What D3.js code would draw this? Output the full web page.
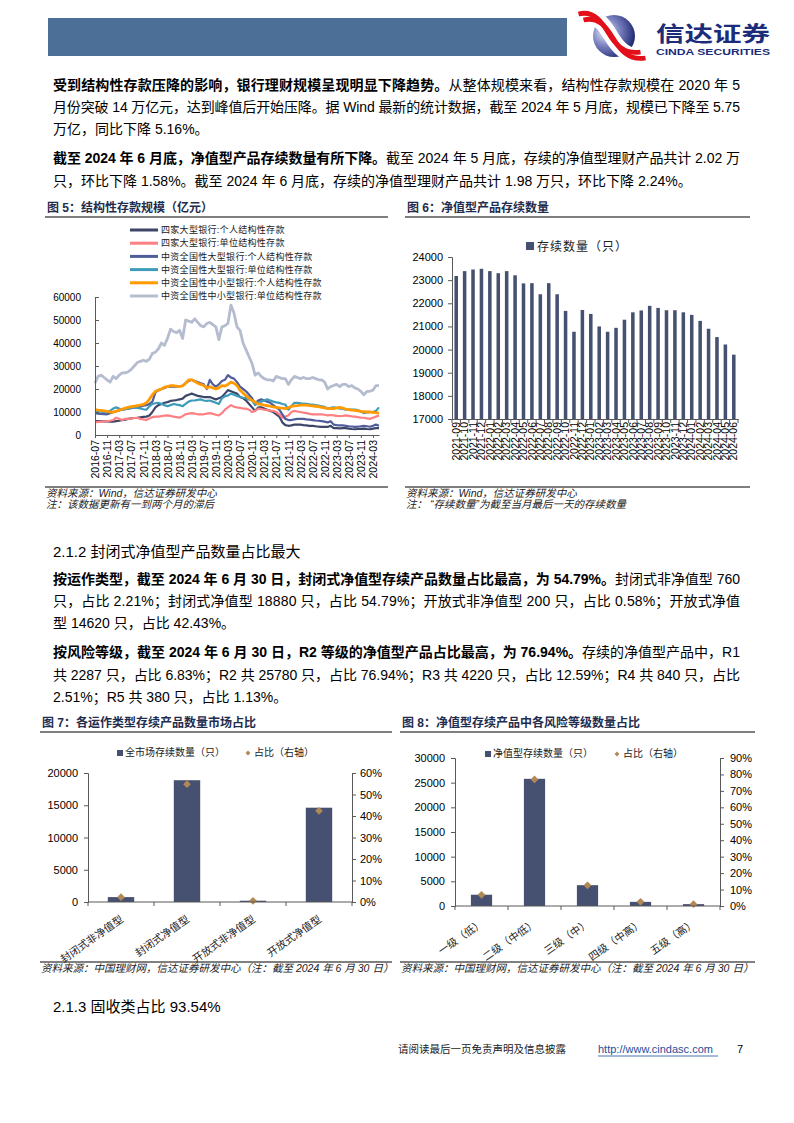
<!DOCTYPE html>
<html>
<head>
<meta charset="utf-8">
<script src="https://cdn.jsdelivr.net/npm/d3@7"></script>
<style>
  body { margin: 0; background: #fff; }
  svg text { font-family: "Liberation Sans", "Noto Sans CJK SC", sans-serif; }
</style>
</head>
<body>
<svg id="page" width="794" height="1123"></svg>
<script>
// ---- Figure 5: structured deposits (亿元), monthly 2016-07 .. 2024-05
const fig5Start = new Date(2016, 6, 1);
const fig5End = new Date(2024, 5, 1);
const fig5TickLabels = ['2016-07', '2016-11', '2017-03', '2017-07', '2017-11', '2018-03', '2018-07', '2018-11',
    '2019-03', '2019-07', '2019-11', '2020-03', '2020-07', '2020-11', '2021-03', '2021-07', '2021-11',
    '2022-03', '2022-07', '2022-11', '2023-03', '2023-07', '2023-11', '2024-03'];
const fig5YTicks = [0, 10000, 20000, 30000, 40000, 50000, 60000];

const big4Personal = [
    6000, 6000, 6000, 5900, 5900, 5800, 5800, 6000, 6200, 6500,
    6700, 7000, 7200, 7400, 7500, 7700, 7900, 8000, 8500, 10000,
    12000, 13000, 13500, 14000, 14300, 14800, 15000, 15200, 15500, 15800,
    17000, 17500, 18000, 17500, 17000, 16800, 16500, 16500, 16500, 16000,
    15500, 16000, 16500, 18000, 19500, 19000, 18500, 18000, 16500, 16000,
    15000, 13500, 12000, 10500, 12000, 12000, 11500, 11000, 10500, 10000,
    9000, 8000, 5500, 4300, 4000, 4200, 4500, 4500, 4500, 4300,
    4200, 4000, 4000, 3800, 3600, 3500, 3500, 3500, 4000, 3000,
    3000, 2900, 3000, 3000, 2800, 2600, 2500, 2600, 2700, 2800,
    2600, 2500, 2800, 3000, 3000];
const big4Unit = [
    5500, 5700, 5800, 5900, 6000, 6200, 6500, 7500, 7000, 6500,
    7000, 7000, 7200, 7400, 7500, 7000, 6800, 6500, 7200, 7800,
    8000, 8000, 8200, 8400, 8500, 8300, 8000, 7800, 7500, 8200,
    9000, 9300, 9500, 9300, 9000, 9000, 9000, 9300, 9500, 9200,
    8800, 8500, 9500, 11000, 12000, 13000, 12300, 12000, 11800, 11500,
    11500, 11000, 10000, 10500, 11500, 11300, 11000, 10800, 10600, 10500,
    10000, 9000, 7500, 8000, 8500, 10000, 10500, 10200, 10000, 9700,
    9500, 9200, 9000, 9000, 9000, 9000, 8800, 8500, 8700, 8500,
    8300, 8200, 8300, 8500, 8300, 8100, 8000, 7800, 7500, 7500,
    7200, 7000, 7500, 8000, 8500];
const largePersonal = [
    9500, 9300, 9200, 9100, 9000, 9500, 10000, 10300, 10700, 11000,
    11200, 11500, 11700, 11900, 12000, 12300, 12700, 13000, 13500, 14500,
    18500, 19500, 20000, 20500, 21000, 21000, 21000, 21000, 21200, 21500,
    22500, 23500, 24000, 23500, 23000, 22500, 22000, 20000, 24000, 22000,
    21000, 22000, 23500, 24000, 26000, 25000, 24500, 23000, 21000, 20000,
    19000, 17500, 16000, 13500, 15000, 15500, 15000, 14500, 14000, 13000,
    12000, 11000, 9000, 7000, 6500, 6500, 6800, 7000, 7000, 7000,
    6800, 6700, 6500, 6300, 6200, 6000, 5800, 5500, 6000, 4500,
    4300, 4200, 4200, 4000, 3800, 3700, 3500, 3600, 3800, 4000,
    3800, 3600, 4000, 4500, 4000];
const largeUnit = [
    10500, 10300, 10200, 10000, 10000, 10500, 11500, 12000, 11500, 11000,
    11200, 11500, 11800, 12000, 11800, 11500, 11200, 11000, 12500, 13500,
    13800, 14000, 13500, 13000, 12500, 13000, 13500, 13200, 13000, 12500,
    13500, 14500, 15000, 15000, 15300, 15500, 15000, 14800, 15000, 14500,
    14000, 13500, 16000, 16800, 17200, 18000, 17500, 17000, 16500, 16200,
    16000, 15500, 15000, 13000, 14000, 14500, 15000, 15500, 15000, 14500,
    14200, 14000, 13500, 13200, 11000, 12500, 14000, 14000, 13800, 13600,
    13500, 13300, 13200, 13000, 12800, 12500, 12200, 11500, 11800, 12000,
    11800, 11500, 11300, 11000, 11000, 11000, 11000, 10800, 10200, 9500,
    9800, 10000, 10000, 10500, 12000];
const smallPersonal = [
    11000, 10800, 10700, 10500, 10300, 10000, 9900, 10300, 10800, 11200,
    11700, 12000, 12300, 12500, 12800, 13000, 13300, 14000, 15500, 17500,
    19000, 19500, 20000, 20800, 21000, 21500, 21500, 21200, 21000, 21300,
    22500, 24000, 24000, 23300, 22500, 22000, 21500, 20500, 21000, 20500,
    20000, 20500, 21500, 21300, 22000, 23000, 22500, 21500, 19500, 18300,
    17000, 16000, 15000, 14300, 13500, 13300, 13000, 12800, 12500, 12200,
    12000, 11800, 11700, 11500, 11800, 12500, 12700, 12800, 13000, 13000,
    13000, 12800, 12700, 12500, 12300, 12000, 11800, 11500, 11500, 11500,
    11800, 12000, 11700, 11300, 11000, 10800, 10700, 10500, 10300, 10200,
    10000, 10000, 9800, 9700, 9500];
const smallUnit = [
    22500, 25500, 26000, 25000, 24000, 23000, 25500, 24500, 26000, 27000,
    27000, 27500, 28500, 30000, 31500, 32000, 32500, 32000, 33000, 35500,
    36000, 37500, 40000, 39000, 42000, 46000, 45000, 44500, 45500, 42000,
    50000, 49500, 49000, 50500, 49000, 47500, 47000, 48500, 49000, 48000,
    47000, 41500, 47000, 47500, 48500, 56500, 53000, 47000, 45500, 40000,
    37000, 34000, 31000, 26000, 27000, 25500, 24500, 24000, 24000, 23500,
    25500, 25000, 24500, 24500, 22000, 24000, 25500, 25000, 24500, 25000,
    24500, 24500, 25000, 24500, 24000, 24000, 23000, 20000, 21000, 21500,
    22000, 21000, 22000, 22000, 21000, 21500, 20500, 20000, 19000, 17500,
    19000, 19000, 19500, 21500, 21500];

// ---- Figure 6: net-value products outstanding
const fig6Months = ['2021-09', '2021-10', '2021-11', '2021-12',
    '2022-01', '2022-02', '2022-03', '2022-04', '2022-05', '2022-06', '2022-07', '2022-08', '2022-09', '2022-10', '2022-11', '2022-12',
    '2023-01', '2023-02', '2023-03', '2023-04', '2023-05', '2023-06', '2023-07', '2023-08', '2023-09', '2023-10', '2023-11', '2023-12',
    '2024-01', '2024-02', '2024-03', '2024-04', '2024-05', '2024-06'];
const fig6Counts = [23180, 23390, 23460, 23490, 23390, 23300, 23390, 23210, 22860, 22870, 22390, 22870, 22390,
    21670, 20770, 21710, 21540, 21000, 20770, 20940, 21290, 21610, 21690, 21890, 21800, 21700, 21700,
    21610, 21500, 21240, 20900, 20540, 20220, 19780];
const fig6YTicks = [17000, 18000, 19000, 20000, 21000, 22000, 23000, 24000];

// ---- Figure 7: by operation type
const fig7Types = ['封闭式非净值型', '封闭式净值型', '开放式非净值型', '开放式净值型'];
const fig7Counts = [760, 18880, 200, 14620];
const fig7Shares = [2.21, 54.79, 0.58, 42.43];
const fig7LeftTicks = [0, 5000, 10000, 15000, 20000];
const fig7RightTicks = [0, 10, 20, 30, 40, 50, 60];

// ---- Figure 8: by risk level
const fig8Levels = ['一级（低）', '二级（中低）', '三级（中）', '四级（中高）', '五级（高）'];
const fig8Counts = [2287, 25780, 4220, 840, 380];
const fig8Shares = [6.83, 76.94, 12.59, 2.51, 1.13];
const fig8LeftTicks = [0, 5000, 10000, 15000, 20000, 25000, 30000];
const fig8RightTicks = [0, 10, 20, 30, 40, 50, 60, 70, 80, 90];

const barColor = '#465171';
const markColor = '#B08957';
const axisColor = '#595959';
const titleColor = '#1F2D4E';

const page = d3.select('#page');
page.append('rect').attr('width', 794).attr('height', 1123).attr('fill', '#fff');

// ---------------- header
page.append('rect').attr('x', 48).attr('y', 18).attr('width', 519).attr('height', 38).attr('fill', '#4B6F97');

const defs = page.append('defs');
const globe = defs.append('radialGradient').attr('id', 'globe')
    .attr('cx', '30%').attr('cy', '40%').attr('r', '75%');
globe.append('stop').attr('offset', '0%').attr('stop-color', '#f2f3fb');
globe.append('stop').attr('offset', '45%').attr('stop-color', '#7a82c0');
globe.append('stop').attr('offset', '100%').attr('stop-color', '#16206a');
page.append('circle').attr('cx', 614).attr('cy', 36).attr('r', 21).attr('fill', 'url(#globe)');
const ribbon = 'M581,17 C597,13 605,26 611,36 C617,46 626,58 643,55';
page.append('path').attr('d', ribbon).attr('fill', 'none').attr('stroke', '#fff').attr('stroke-width', 15);
[[-2.5, -3], [2.5, 3]].forEach(([dx, dy]) => {
    page.append('path').attr('d', ribbon)
        .attr('transform', `translate(${dx},${dy})`)
        .attr('fill', 'none').attr('stroke', '#E3101B').attr('stroke-width', 4.8);
});
page.append('text').attr('x', 656).attr('y', 41).text('信达证券')
    .attr('font-size', 21).attr('font-weight', 700).attr('fill', '#1B2C7A')
    .attr('textLength', 114).attr('lengthAdjust', 'spacingAndGlyphs');
page.append('text').attr('x', 656).attr('y', 55).text('CINDA SECURITIES')
    .attr('font-size', 9).attr('font-weight', 700).attr('fill', '#1B2C7A')
    .attr('textLength', 114).attr('lengthAdjust', 'spacingAndGlyphs');

// ---------------- body text
function textLine(y, parts, fullWidth) {
    const t = page.append('text').attr('x', 53).attr('y', y).attr('font-size', 14).attr('fill', '#000');
    parts.forEach(p => t.append('tspan').attr('font-weight', p[1] ? 700 : 400).text(p[0]));
    if (fullWidth) t.attr('textLength', 687).attr('lengthAdjust', 'spacing');
}

textLine(90, [['受到结构性存款压降的影响，银行理财规模呈现明显下降趋势。', 1], ['从整体规模来看，结构性存款规模在 2020 年 5', 0]], true);
textLine(112, [['月份突破 14 万亿元，达到峰值后开始压降。据 Wind 最新的统计数据，截至 2024 年 5 月底，规模已下降至 5.75', 0]], true);
textLine(134, [['万亿，同比下降 5.16%。', 0]]);
textLine(163, [['截至 2024 年 6 月底，净值型产品存续数量有所下降。', 1], ['截至 2024 年 5 月底，存续的净值型理财产品共计 2.02 万', 0]], true);
textLine(186, [['只，环比下降 1.58%。截至 2024 年 6 月底，存续的净值型理财产品共计 1.98 万只，环比下降 2.24%。', 0]]);

page.append('text').attr('x', 53).attr('y', 557).attr('font-size', 15).text('2.1.2 封闭式净值型产品数量占比最大');
textLine(584, [['按运作类型，截至 2024 年 6 月 30 日，封闭式净值型存续产品数量占比最高，为 54.79%。', 1], ['封闭式非净值型 760', 0]], true);
textLine(606, [['只，占比 2.21%；封闭式净值型 18880 只，占比 54.79%；开放式非净值型 200 只，占比 0.58%；开放式净值', 0]], true);
textLine(628, [['型 14620 只，占比 42.43%。', 0]]);
textLine(657, [['按风险等级，截至 2024 年 6 月 30 日，R2 等级的净值型产品占比最高，为 76.94%。', 1], ['存续的净值型产品中，R1', 0]], true);
textLine(680, [['共 2287 只，占比 6.83%；R2 共 25780 只，占比 76.94%；R3 共 4220 只，占比 12.59%；R4 共 840 只，占比', 0]], true);
textLine(702, [['2.51%；R5 共 380 只，占比 1.13%。', 0]]);
page.append('text').attr('x', 53).attr('y', 1012).attr('font-size', 15).text('2.1.3 固收类占比 93.54%');

// footer
page.append('text').attr('x', 398).attr('y', 1053).attr('font-size', 10.5).attr('fill', '#222')
    .text('请阅读最后一页免责声明及信息披露');
page.append('text').attr('x', 598).attr('y', 1053).attr('font-size', 11).attr('fill', '#1F4E9C')
    .text('http://www.cindasc.com');
page.append('line').attr('x1', 598).attr('x2', 718).attr('y1', 1056).attr('y2', 1056)
    .attr('stroke', '#1F4E9C').attr('stroke-width', 0.8);
page.append('text').attr('x', 737).attr('y', 1053).attr('font-size', 11).text('7');

// ---------------- figure frames
function figureFrame(x1, x2, titleY, title, sourceY, sources) {
    page.append('text').attr('x', x1 + 2).attr('y', titleY).attr('font-size', 12).attr('font-weight', 700)
        .attr('fill', titleColor).text(title);
    page.append('line').attr('x1', x1).attr('x2', x2).attr('y1', titleY + 5).attr('y2', titleY + 5)
        .attr('stroke', '#000').attr('stroke-width', 1.2);
    page.append('line').attr('x1', x1).attr('x2', x2).attr('y1', sourceY).attr('y2', sourceY)
        .attr('stroke', '#000').attr('stroke-width', 1);
    sources.forEach((s, i) => {
        page.append('text').attr('x', x1 + 1).attr('y', sourceY + 10 + i * 10.5)
            .attr('font-size', 10.5).attr('font-style', 'italic').attr('fill', '#222').text(s);
    });
}

figureFrame(45, 388, 212, '图 5：结构性存款规模（亿元）', 487,
    ['资料来源：Wind，信达证券研发中心', '注：该数据更新有一到两个月的滞后']);
figureFrame(405, 750, 212, '图 6：净值型产品存续数量', 487,
    ['资料来源：Wind，信达证券研发中心', '注：  “存续数量”为截至当月最后一天的存续数量']);
figureFrame(40, 392, 727, '图 7：各运作类型存续产品数量市场占比', 962,
    ['资料来源：中国理财网，信达证券研发中心（注：截至 2024 年 6 月 30 日）']);
figureFrame(400, 755, 727, '图 8：净值型存续产品中各风险等级数量占比', 962,
    ['资料来源：中国理财网，信达证券研发中心（注：截至 2024 年 6 月 30 日）']);

function styleAxis(g, size) {
    g.select('.domain').attr('stroke', axisColor);
    g.selectAll('.tick line').attr('stroke', axisColor);
    g.selectAll('.tick text').attr('fill', '#000').attr('font-size', size)
        .attr('font-family', '"Liberation Sans", "Noto Sans CJK SC", sans-serif');
}

// ---------------- Figure 5
const fig5Months = d3.timeMonth.range(fig5Start, fig5End);
const fmtMonth = d3.timeFormat('%Y-%m');
const fig5Keys = fig5Months.map(fmtMonth);
const x5 = d3.scalePoint().domain(fig5Keys).range([95, 379]);
const y5 = d3.scaleLinear().domain([0, 60000]).range([435, 297]);

const fig5Series = [
    { name: '四家大型银行:个人结构性存款', color: '#3D4668', width: 2.2, values: big4Personal },
    { name: '四家大型银行:单位结构性存款', color: '#FF7F82', width: 2.2, values: big4Unit },
    { name: '中资全国性大型银行:个人结构性存款', color: '#4F5D9C', width: 2.2, values: largePersonal },
    { name: '中资全国性大型银行:单位结构性存款', color: '#3D9CB9', width: 2.2, values: largeUnit },
    { name: '中资全国性中小型银行:个人结构性存款', color: '#FF9A00', width: 2.8, values: smallPersonal },
    { name: '中资全国性中小型银行:单位结构性存款', color: '#B5BCCF', width: 2.8, values: smallUnit }
];

const g5 = page.append('g');
const line5 = d3.line().x((d, i) => x5(fig5Keys[i])).y(d => y5(d));
g5.selectAll('path.series')
    .data(fig5Series)
    .enter()
    .append('path')
        .attr('class', 'series')
        .attr('d', d => line5(d.values))
        .attr('fill', 'none')
        .attr('stroke', d => d.color)
        .attr('stroke-width', d => d.width)
        .attr('stroke-linejoin', 'round');

g5.append('g').attr('transform', 'translate(95,0)')
    .call(d3.axisLeft(y5).tickValues(fig5YTicks).tickSize(-4).tickPadding(14).tickFormat(d3.format('d')))
    .call(g => styleAxis(g, 10));
const xAxis5 = g5.append('g').attr('transform', 'translate(0,435)')
    .call(d3.axisBottom(x5).tickValues(fig5TickLabels).tickSize(3).tickSizeOuter(0))
    .call(g => styleAxis(g, 10.5));
xAxis5.selectAll('.tick text')
    .attr('transform', 'rotate(-90)')
    .attr('text-anchor', 'end')
    .attr('x', -5).attr('y', 0).attr('dy', '0.35em');

// legend
const leg5 = g5.selectAll('g.leg')
    .data(fig5Series)
    .enter()
    .append('g')
        .attr('transform', (d, i) => `translate(130,${230 + i * 13.2})`);
leg5.append('line').attr('x1', 0).attr('x2', 28).attr('stroke', d => d.color).attr('stroke-width', 3);
leg5.append('text').attr('x', 31).attr('y', 3.2).attr('font-size', 9).attr('letter-spacing', 0.3)
    .attr('fill', '#222').text(d => d.name);

// ---------------- Figure 6
const x6 = d3.scaleBand().domain(fig6Months).range([452, 738]).paddingInner(0.58).paddingOuter(0.29);
const y6 = d3.scaleLinear().domain([17000, 24000]).range([419, 257]);
const g6 = page.append('g');
g6.selectAll('rect')
    .data(fig6Counts)
    .enter()
    .append('rect')
        .attr('x', (d, i) => x6(fig6Months[i]))
        .attr('y', d => y6(d))
        .attr('width', x6.bandwidth())
        .attr('height', d => y6(17000) - y6(d))
        .attr('fill', barColor);
g6.append('g').attr('transform', 'translate(452,0)')
    .call(d3.axisLeft(y6).tickValues(fig6YTicks).tickSize(4).tickPadding(5).tickFormat(d3.format('d')))
    .call(g => styleAxis(g, 11));
const xAxis6 = g6.append('g').attr('transform', 'translate(0,419)')
    .call(d3.axisBottom(x6).tickSize(0).tickSizeOuter(0))
    .call(g => styleAxis(g, 10.5));
xAxis6.selectAll('.tick text')
    .attr('transform', 'rotate(-90)')
    .attr('text-anchor', 'end')
    .attr('x', -3).attr('y', 0).attr('dy', '0.35em');
// tick marks between bands
g6.selectAll('line.sep')
    .data(d3.range(fig6Months.length + 1))
    .enter()
    .append('line')
        .attr('x1', i => 452 + i * x6.step()).attr('x2', i => 452 + i * x6.step())
        .attr('y1', 419).attr('y2', 423)
        .attr('stroke', axisColor);
g6.append('rect').attr('x', 526).attr('y', 242).attr('width', 8).attr('height', 8).attr('fill', barColor);
g6.append('text').attr('x', 537).attr('y', 251).attr('font-size', 12).attr('letter-spacing', 1)
    .attr('fill', '#222').text('存续数量（只）');

// ---------------- Figures 7 and 8 (bars + share markers on right axis)
function comboChart(opt) {
    const g = page.append('g');
    const x = d3.scaleBand().domain(opt.cats).range([opt.left, opt.right]).paddingInner(0.6).paddingOuter(0.3);
    const yL = d3.scaleLinear().domain([0, opt.leftMax]).range([opt.bottom, opt.top]);
    const yR = d3.scaleLinear().domain([0, opt.rightMax]).range([opt.bottom, opt.top]);

    g.selectAll('rect.bar')
        .data(opt.counts)
        .enter()
        .append('rect')
            .attr('class', 'bar')
            .attr('x', (d, i) => x(opt.cats[i]))
            .attr('y', d => yL(d))
            .attr('width', x.bandwidth())
            .attr('height', d => opt.bottom - yL(d))
            .attr('fill', barColor);

    const diamond = d3.symbol(d3.symbolSquare, 30);
    g.selectAll('path.mark')
        .data(opt.shares)
        .enter()
        .append('path')
            .attr('class', 'mark')
            .attr('d', diamond)
            .attr('transform', (d, i) => `translate(${x(opt.cats[i]) + x.bandwidth() / 2},${yR(d)}) rotate(45)`)
            .attr('fill', markColor);

    g.append('g').attr('transform', `translate(${opt.left},0)`)
        .call(d3.axisLeft(yL).tickValues(opt.leftTicks).tickSize(4).tickPadding(6).tickFormat(d3.format('d')))
        .call(a => styleAxis(a, 11));
    g.append('g').attr('transform', `translate(${opt.right},0)`)
        .call(d3.axisRight(yR).tickValues(opt.rightTicks).tickSize(4).tickPadding(opt.rightPad).tickFormat(d => d + '%'))
        .call(a => styleAxis(a, 11));
    g.append('line').attr('x1', opt.left).attr('x2', opt.right).attr('y1', opt.bottom).attr('y2', opt.bottom)
        .attr('stroke', axisColor);
    g.selectAll('line.sep')
        .data(d3.range(opt.cats.length + 1))
        .enter()
        .append('line')
            .attr('x1', i => opt.left + i * x.step()).attr('x2', i => opt.left + i * x.step())
            .attr('y1', opt.bottom).attr('y2', opt.bottom + 4)
            .attr('stroke', axisColor);

    g.selectAll('text.cat')
        .data(opt.cats)
        .enter()
        .append('text')
            .attr('class', 'cat')
            .attr('text-anchor', 'end')
            .attr('font-size', 10.5)
            .attr('fill', '#222')
            .attr('transform', d => `translate(${x(d) + x.bandwidth() / 2 + 3},${opt.bottom + 19}) rotate(-35)`)
            .text(d => d);

    // legend
    g.append('rect').attr('x', opt.legX).attr('y', opt.legY - 6).attr('width', 6).attr('height', 6).attr('fill', barColor);
    g.append('text').attr('x', opt.legX + 8).attr('y', opt.legY).attr('font-size', 10).attr('fill', '#222').text(opt.barLabel);
    g.append('path').attr('d', d3.symbol(d3.symbolSquare, 12))
        .attr('transform', `translate(${opt.legX2},${opt.legY - 3}) rotate(45)`).attr('fill', markColor);
    g.append('text').attr('x', opt.legX2 + 6).attr('y', opt.legY).attr('font-size', 10).attr('fill', '#222').text('占比（右轴）');
}

comboChart({
    cats: fig7Types, counts: fig7Counts, shares: fig7Shares,
    left: 88, right: 352, top: 773, bottom: 902,
    leftMax: 20000, rightMax: 60, leftTicks: fig7LeftTicks, rightTicks: fig7RightTicks, rightPad: 4,
    barLabel: '全市场存续数量（只）', legX: 117, legY: 756, legX2: 248
});
comboChart({
    cats: fig8Levels, counts: fig8Counts, shares: fig8Shares,
    left: 455, right: 720, top: 758, bottom: 906,
    leftMax: 30000, rightMax: 90, leftTicks: fig8LeftTicks, rightTicks: fig8RightTicks, rightPad: 6,
    barLabel: '净值型存续数量（只）', legX: 485, legY: 757, legX2: 617
});
</script>
</body>
</html>
